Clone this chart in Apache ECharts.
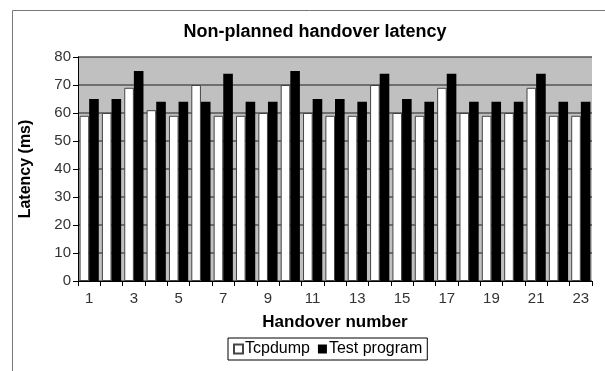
<!DOCTYPE html>
<html>
<head>
<meta charset="utf-8">
<script src="https://cdn.jsdelivr.net/npm/echarts@6/dist/echarts.min.js"></script>
<style>html,body{margin:0;padding:0;background:#fff;}#c{width:605px;height:371px;}</style>
</head>
<body>
<div id="c"></div>
<script>
var categories = ['1','2','3','4','5','6','7','8','9','10','11','12','13','14','15','16','17','18','19','20','21','22','23'];
var tcpdump = [59, 60, 69, 61, 59, 70, 59, 59, 60, 70, 60, 59, 59, 70, 60, 59, 69, 60, 59, 60, 69, 59, 59];
var testProgram = [65, 65, 75, 64, 64, 64, 74, 64, 64, 75, 65, 65, 64, 74, 65, 64, 74, 64, 64, 64, 74, 64, 64];
var yTicks = [0, 10, 20, 30, 40, 50, 60, 70, 80];

var chart = echarts.init(document.getElementById('c'), null, {renderer: 'canvas'});
var font = 'Liberation Sans, Arial, sans-serif';
chart.setOption({
  animation: false,
  backgroundColor: '#fff',
  textStyle: {fontFamily: font},
  graphic: [{
    type: 'rect', left: 10, top: 8, shape: {width: 620, height: 420},
    style: {fill: 'none', stroke: '#777', lineWidth: 1}, silent: true
  }],
  title: {
    text: 'Non-planned handover latency',
    left: 310, top: 18, textAlign: 'center',
    textStyle: {fontFamily: font, fontSize: 18, fontWeight: 'bold', color: '#000'}
  },
  legend: {
    data: ['Tcpdump', 'Test program'],
    left: 228, top: 338,
    padding: [3, 5, 3, 5],
    borderColor: '#000', borderWidth: 1,
    icon: 'rect', itemWidth: 9, itemHeight: 9, itemGap: 8,
    textStyle: {fontFamily: font, fontSize: 16, color: '#000', padding: [0, 0, 0, -3]}
  },
  grid: {left: 78, right: 13, top: 57, bottom: 90, show: true, backgroundColor: '#c0c0c0', borderWidth: 0},
  xAxis: {
    type: 'category', data: categories,
    name: 'Handover number', nameLocation: 'middle', nameGap: 33,
    nameTextStyle: {fontFamily: font, fontSize: 17, fontWeight: 'bold', color: '#000'},
    axisLine: {lineStyle: {color: '#000', width: 1}},
    axisTick: {show: true, alignWithLabel: false, interval: 0, length: 5, lineStyle: {color: '#000'}},
    axisLabel: {interval: 1, fontFamily: font, fontSize: 15, color: '#333', margin: 10},
    splitLine: {show: false}
  },
  yAxis: {
    type: 'value', min: 0, max: 80, interval: 10,
    name: 'Latency (ms)', nameLocation: 'middle', nameGap: 44, nameRotate: 90,
    nameTextStyle: {fontFamily: font, fontSize: 16, fontWeight: 'bold', color: '#000'},
    axisLine: {show: true, lineStyle: {color: '#000', width: 1}},
    axisTick: {show: true, length: 5, lineStyle: {color: '#000'}},
    axisLabel: {fontFamily: font, fontSize: 15, color: '#333', margin: 7},
    splitLine: {show: true, lineStyle: {color: '#555', width: 1.5}}
  },
  series: [
    {
      name: 'Tcpdump', type: 'bar', data: tcpdump,
      barGap: '0%', barCategoryGap: '14%',
      itemStyle: {color: '#fff', borderColor: '#444', borderWidth: 1}
    },
    {
      name: 'Test program', type: 'bar', data: testProgram,
      barGap: '0%', barCategoryGap: '14%',
      itemStyle: {color: '#000', borderColor: '#000', borderWidth: 0}
    }
  ]
});
</script>
</body>
</html>
